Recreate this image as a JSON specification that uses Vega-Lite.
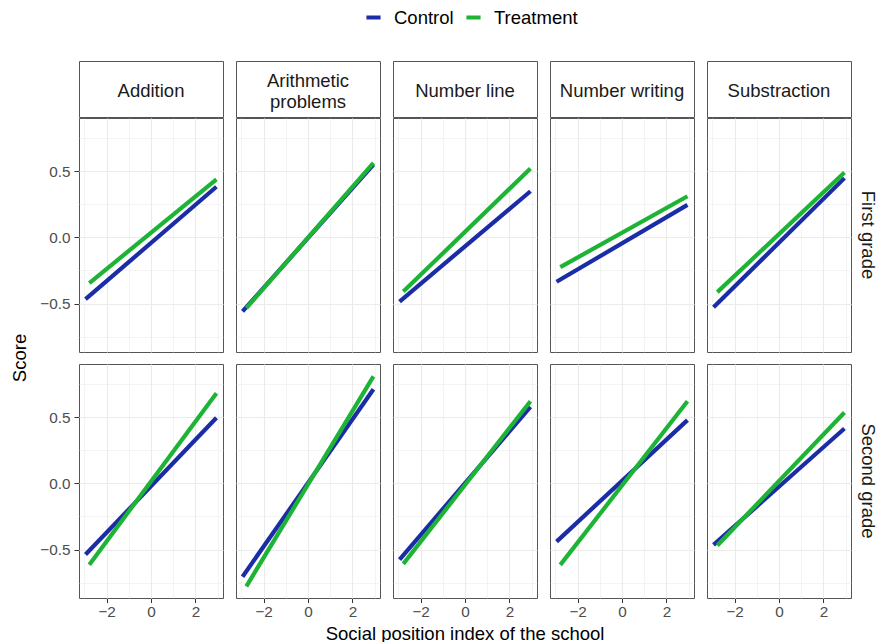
{
  "$schema": "https://vega.github.io/schema/vega-lite/v6.json",
  "padding": {"left": 10, "top": 8, "right": 0, "bottom": 0},
  "background": "white",
  "config": {
    "font": "Liberation Sans",
    "view": {"stroke": "#555555", "strokeWidth": 1}
  },
  "datasets": {
    "lines": [
      {"grade": "First grade", "task": "Addition", "group": "Control", "x": -2.95, "score": -0.467},
      {"grade": "First grade", "task": "Addition", "group": "Control", "x": 2.95, "score": 0.382},
      {"grade": "First grade", "task": "Arithmetic problems", "group": "Control", "x": -2.95, "score": -0.56},
      {"grade": "First grade", "task": "Arithmetic problems", "group": "Control", "x": 2.95, "score": 0.55},
      {"grade": "First grade", "task": "Number line", "group": "Control", "x": -2.95, "score": -0.485},
      {"grade": "First grade", "task": "Number line", "group": "Control", "x": 2.95, "score": 0.348},
      {"grade": "First grade", "task": "Number writing", "group": "Control", "x": -2.95, "score": -0.336},
      {"grade": "First grade", "task": "Number writing", "group": "Control", "x": 2.95, "score": 0.245},
      {"grade": "First grade", "task": "Substraction", "group": "Control", "x": -2.95, "score": -0.528},
      {"grade": "First grade", "task": "Substraction", "group": "Control", "x": 2.95, "score": 0.447},
      {"grade": "Second grade", "task": "Addition", "group": "Control", "x": -2.95, "score": -0.538},
      {"grade": "Second grade", "task": "Addition", "group": "Control", "x": 2.95, "score": 0.495},
      {"grade": "Second grade", "task": "Arithmetic problems", "group": "Control", "x": -2.95, "score": -0.705},
      {"grade": "Second grade", "task": "Arithmetic problems", "group": "Control", "x": 2.95, "score": 0.71},
      {"grade": "Second grade", "task": "Number line", "group": "Control", "x": -2.95, "score": -0.576},
      {"grade": "Second grade", "task": "Number line", "group": "Control", "x": 2.95, "score": 0.578},
      {"grade": "Second grade", "task": "Number writing", "group": "Control", "x": -2.95, "score": -0.44},
      {"grade": "Second grade", "task": "Number writing", "group": "Control", "x": 2.95, "score": 0.477},
      {"grade": "Second grade", "task": "Substraction", "group": "Control", "x": -2.95, "score": -0.465},
      {"grade": "Second grade", "task": "Substraction", "group": "Control", "x": 2.95, "score": 0.414},
      {"grade": "First grade", "task": "Addition", "group": "Treatment", "x": -2.78, "score": -0.345},
      {"grade": "First grade", "task": "Addition", "group": "Treatment", "x": 2.95, "score": 0.437},
      {"grade": "First grade", "task": "Arithmetic problems", "group": "Treatment", "x": -2.78, "score": -0.535},
      {"grade": "First grade", "task": "Arithmetic problems", "group": "Treatment", "x": 2.95, "score": 0.563},
      {"grade": "First grade", "task": "Number line", "group": "Treatment", "x": -2.78, "score": -0.41},
      {"grade": "First grade", "task": "Number line", "group": "Treatment", "x": 2.95, "score": 0.52},
      {"grade": "First grade", "task": "Number writing", "group": "Treatment", "x": -2.78, "score": -0.225},
      {"grade": "First grade", "task": "Number writing", "group": "Treatment", "x": 2.95, "score": 0.31},
      {"grade": "First grade", "task": "Substraction", "group": "Treatment", "x": -2.78, "score": -0.414},
      {"grade": "First grade", "task": "Substraction", "group": "Treatment", "x": 2.95, "score": 0.49},
      {"grade": "Second grade", "task": "Addition", "group": "Treatment", "x": -2.78, "score": -0.614},
      {"grade": "Second grade", "task": "Addition", "group": "Treatment", "x": 2.95, "score": 0.68},
      {"grade": "Second grade", "task": "Arithmetic problems", "group": "Treatment", "x": -2.78, "score": -0.778},
      {"grade": "Second grade", "task": "Arithmetic problems", "group": "Treatment", "x": 2.95, "score": 0.808},
      {"grade": "Second grade", "task": "Number line", "group": "Treatment", "x": -2.78, "score": -0.608},
      {"grade": "Second grade", "task": "Number line", "group": "Treatment", "x": 2.95, "score": 0.62},
      {"grade": "Second grade", "task": "Number writing", "group": "Treatment", "x": -2.78, "score": -0.616},
      {"grade": "Second grade", "task": "Number writing", "group": "Treatment", "x": 2.95, "score": 0.62},
      {"grade": "Second grade", "task": "Substraction", "group": "Treatment", "x": -2.78, "score": -0.47},
      {"grade": "Second grade", "task": "Substraction", "group": "Treatment", "x": 2.95, "score": 0.535}
    ]
  },
  "columns": 2,
  "spacing": {"row": -1, "column": 0},
  "concat": [
    {
      "data": {"values": [
        {"task": "Addition", "label": "Addition", "r": "a"},
        {"task": "Arithmetic problems", "label": "Arithmetic\nproblems", "r": "a"},
        {"task": "Number line", "label": "Number line", "r": "a"},
        {"task": "Number writing", "label": "Number writing", "r": "a"},
        {"task": "Substraction", "label": "Substraction", "r": "a"}
      ]},
      "facet": {
        "row": {"field": "r", "type": "nominal", "header": {"labels": false, "title": "Score", "titleColor": "transparent", "titleFontSize": 18.5, "titleFontWeight": "normal", "titleFont": "Liberation Sans", "titlePadding": 0, "labelPadding": 0}},
        "column": {"field": "task", "type": "nominal", "title": null, "sort": ["Addition", "Arithmetic problems", "Number line", "Number writing", "Substraction"], "header": {"labels": false, "title": null}}
      },
      "bounds": "flush",
      "spacing": {"row": 12, "column": 13},
      "spec": {
        "width": 144,
        "height": 56,
        "encoding": {
          "text": {"field": "label", "type": "nominal"},
          "y": {"field": "r", "type": "nominal", "axis": {"labels": false, "ticks": false, "domain": false, "grid": false, "title": null, "minExtent": 38, "maxExtent": 38}}
        },
        "layer": [
          {
            "transform": [{"filter": "indexof(datum.label, '\\n') < 0"}],
            "mark": {"type": "text", "fontSize": 18.5, "dy": 2, "color": "#1A1A1A", "font": "Liberation Sans"}
          },
          {
            "transform": [{"filter": "indexof(datum.label, '\\n') >= 0"}],
            "mark": {"type": "text", "fontSize": 18.5, "lineBreak": "\n", "lineHeight": 21, "dy": -8.5, "color": "#1A1A1A", "font": "Liberation Sans"}
          }
        ]
      }
    },
    {
      "data": {"values": [{"t": ""}]},
      "width": 28,
      "height": 56,
      "view": {"stroke": null},
      "mark": {"type": "text"},
      "encoding": {"text": {"field": "t", "type": "nominal"}}
    },
    {
      "data": {"name": "lines"},
      "facet": {
        "row": {"field": "grade", "type": "nominal", "header": {"labels": false, "title": "Score", "titleColor": "#000000", "titleFontSize": 18.5, "titleFontWeight": "normal", "titleFont": "Liberation Sans", "titlePadding": 0, "labelPadding": 0}},
        "column": {"field": "task", "type": "nominal", "sort": ["Addition", "Arithmetic problems", "Number line", "Number writing", "Substraction"], "header": {"labels": false, "title": "Social position index of the school", "titleOrient": "bottom", "titleColor": "#000000", "titleFontSize": 18.5, "titleFontWeight": "normal", "titleFont": "Liberation Sans", "titlePadding": -5, "labelPadding": 0}}
      },
      "bounds": "flush",
      "spacing": {"row": 12, "column": 13},
      "spec": {
        "width": 144,
        "height": 234,
        "mark": {"type": "line", "strokeWidth": 4.2, "strokeCap": "butt"},
        "encoding": {
          "x": {
            "field": "x", "type": "quantitative",
            "scale": {"domain": [-3.245, 3.245], "nice": false, "zero": false},
            "axis": {
              "title": null,
              "values": [-3, -2, -1, 0, 1, 2, 3],
              "format": "d",
              "labelExpr": "datum.value % 2 === 0 ? datum.label : ''",
              "tickOpacity": {"condition": {"test": "datum.value % 2 === 0", "value": 1}, "value": 0},
              "gridWidth": {"condition": {"test": "datum.value % 2 === 0", "value": 1.1}, "value": 0.55},
              "gridColor": "#EBEBEB",
              "domain": false,
              "tickColor": "#333333",
              "tickSize": 4.5,
              "labelColor": "#4D4D4D",
              "labelFontSize": 15.3,
              "labelFont": "Liberation Sans",
              "labelPadding": 2
            }
          },
          "y": {
            "field": "score", "type": "quantitative",
            "scale": {"domain": [-0.866, 0.901], "nice": false, "zero": false},
            "axis": {
              "title": null,
              "values": [-0.75, -0.5, -0.25, 0, 0.25, 0.5, 0.75],
              "format": ".1f",
              "labelExpr": "datum.value % 0.5 === 0 ? datum.label : ''",
              "tickOpacity": {"condition": {"test": "datum.value % 0.5 === 0", "value": 1}, "value": 0},
              "gridWidth": {"condition": {"test": "datum.value % 0.5 === 0", "value": 1.1}, "value": 0.55},
              "gridColor": "#EBEBEB",
              "domain": false,
              "tickColor": "#333333",
              "tickSize": 5,
              "labelColor": "#4D4D4D",
              "labelFontSize": 15.3,
              "labelFont": "Liberation Sans",
              "labelPadding": 4,
              "minExtent": 38,
              "maxExtent": 38
            }
          },
          "color": {
            "field": "group", "type": "nominal",
            "scale": {"domain": ["Control", "Treatment"], "range": ["#1B2DA6", "#1DB436"]},
            "legend": {
              "title": null,
              "orient": "none",
              "legendX": 285,
              "legendY": -53,
              "direction": "horizontal",
              "symbolType": "stroke",
              "symbolStrokeWidth": 4,
              "symbolSize": 200,
              "labelFontSize": 18.5,
              "labelFont": "Liberation Sans",
              "labelColor": "#000000",
              "labelOffset": 11,
              "columnPadding": 4
            }
          }
        }
      }
    },
    {
      "data": {"values": [{"grade": "First grade"}, {"grade": "Second grade"}]},
      "facet": {
        "row": {"field": "grade", "type": "nominal", "title": null, "header": {"labels": false, "title": null}}
      },
      "bounds": "flush",
      "spacing": 12,
      "spec": {
        "width": 28,
        "height": 234,
        "mark": {"type": "text", "angle": 90, "fontSize": 18.5, "color": "#1A1A1A", "font": "Liberation Sans"},
        "encoding": {"text": {"field": "grade", "type": "nominal"}}
      }
    }
  ]
}
